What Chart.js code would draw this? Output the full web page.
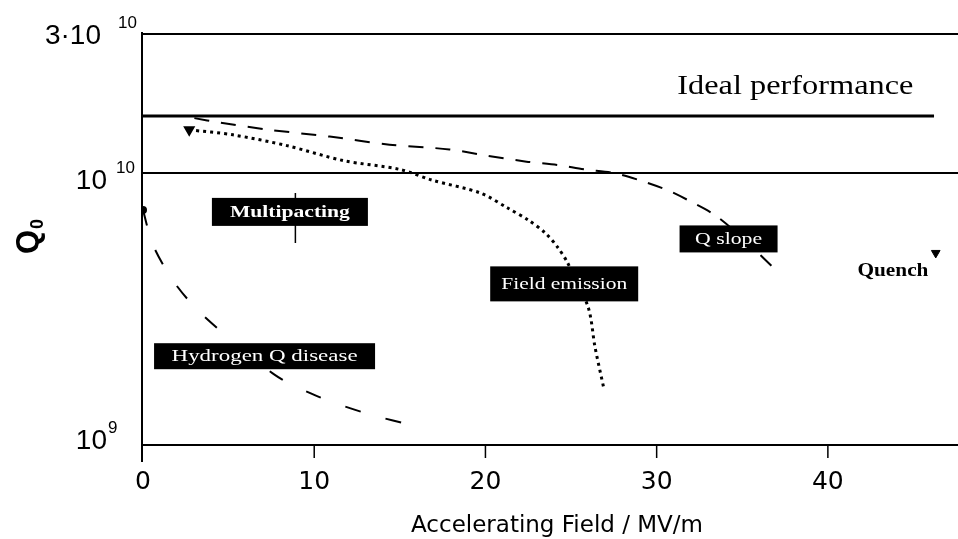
<!DOCTYPE html>
<html>
<head>
<meta charset="utf-8">
<script src="https://cdn.jsdelivr.net/npm/chart.js@4"></script>
<style>
  body { margin: 0; background: #fff; }
  canvas { display: block; }
</style>
</head>
<body>
<canvas id="grafik" width="958" height="539"></canvas>
<script>
// data (medan dalam MV/m, Q0)
const tickX = [0, 10, 20, 30, 40];
const tickY = [1e9, 1e10, 3e10];
const labelTickY = [["10", "9"], ["10", "10"], ["3·10", "10"]];

const medanIdeal = [0, 46.2];
const nilaiIdeal = [1.62e10, 1.62e10];

const medanRef = [0, 47.6];
const nilaiRef = [1e10, 1e10];

const medanQSlope = [3.0, 4.5, 7.4, 10.9, 14.4, 17.9, 20.0, 22.4, 24.2, 25.8, 27.5, 29.0, 30.6, 31.8, 33.4, 35.1, 36.8, 37.2];
const nilaiQSlope = [1.59e10, 1.53e10, 1.44e10, 1.36e10, 1.27e10, 1.22e10, 1.16e10, 1.10e10, 1.07e10, 1.03e10, 1.0e10, 9.4e9, 8.66e9, 7.96e9, 7.0e9, 5.7e9, 4.5e9, 4.29e9];

const medanEmisi = [2.7, 5.25, 8.4, 11.7, 15.0, 16.9, 19.7, 21.3, 22.5, 23.5, 24.2, 24.8, 26.0, 26.4, 26.9];
const nilaiEmisi = [1.44e10, 1.38e10, 1.26e10, 1.11e10, 1.03e10, 9.4e9, 8.44e9, 7.43e9, 6.71e9, 6.01e9, 5.35e9, 4.67e9, 3.21e9, 2.29e9, 1.63e9];

const medanHidrogen = [0, 0.6, 1.9, 3.6, 7.7, 10.2, 13.0, 16.2];
const nilaiHidrogen = [7.3e9, 5.4e9, 3.9e9, 2.96e9, 1.81e9, 1.51e9, 1.31e9, 1.16e9];

const medanMulti = [8.9, 8.9];
const nilaiMulti = [8.44e9, 5.53e9];

const medanQuench = [46.3];
const nilaiQuench = [5.08e9];

// label kotak hitam: teks, posisi (medan, Q0)
const labelKotak = [
    { teks: "Multipacting", x: 8.58, y: 7.19e9, tebal: true },
    { teks: "Q slope", x: 34.2, y: 5.72e9, tebal: false },
    { teks: "Field emission", x: 24.6, y: 3.91e9, tebal: false },
    { teks: "Hydrogen Q disease", x: 7.1, y: 2.12e9, tebal: false }
];
const labelBebas = [
    { teks: "Ideal performance", x: 38.1, y: 2.07e10 },
    { teks: "Quench", x: 43.8, y: 4.33e9 }
];

function gabung(xs, ys) {
    return xs.map((x, i) => ({ x: x, y: ys[i] }));
}

// ukuran kotak dan lebar teks (gaya, bukan data)
const gayaKotak = {
    "Multipacting": { w: 156, h: 28, tw: 120, fs: 17 },
    "Q slope": { w: 98, h: 27, tw: 67, fs: 16 },
    "Field emission": { w: 148, h: 35, tw: 126, fs: 16 },
    "Hydrogen Q disease": { w: 221, h: 26, tw: 186, fs: 16 }
};

function teksLebar(ctx, teks, cx, cy, font, lebar) {
    ctx.save();
    ctx.font = font;
    let w = ctx.measureText(teks).width;
    let s = lebar / w;
    ctx.translate(cx, cy);
    ctx.scale(s, 1);
    ctx.textAlign = "center";
    ctx.textBaseline = "middle";
    ctx.fillText(teks, 0, 0);
    ctx.restore();
}

const pluginRangka = {
    id: "rangka",
    afterDatasetsDraw(chart) {
        let ctx = chart.ctx;
        let xs = chart.scales.x;
        let ys = chart.scales.y;
        let a = chart.chartArea;

        ctx.save();
        ctx.strokeStyle = "#000";
        ctx.fillStyle = "#000";
        ctx.lineWidth = 2;

        // bingkai
        ctx.beginPath();
        ctx.moveTo(a.left - 1, a.top);
        ctx.lineTo(a.right, a.top);
        ctx.moveTo(a.left - 1, a.top - 2);
        ctx.lineTo(a.left - 1, a.bottom + 17);
        ctx.moveTo(a.left - 1, a.bottom);
        ctx.lineTo(a.right, a.bottom);
        ctx.stroke();

        // tick sumbu x
        ctx.lineWidth = 1.5;
        ctx.beginPath();
        tickX.forEach(v => {
            if (v === 0) return;
            let px = xs.getPixelForValue(v);
            ctx.moveTo(px, a.bottom);
            ctx.lineTo(px, a.bottom + 13);
        });
        ctx.stroke();

        // label tick x
        ctx.font = "25px 'DejaVu Sans'";
        ctx.textAlign = "center";
        ctx.textBaseline = "middle";
        tickX.forEach(v => {
            ctx.fillText(String(v), xs.getPixelForValue(v), 482);
        });

        // judul sumbu x
        ctx.font = "23px 'DejaVu Sans'";
        ctx.fillText("Accelerating Field / MV/m", 557, 526);

        // label tick y dengan pangkat
        let geserY = [-4, 8, -7];
        let kananY = [107, 107, 101];
        let jarakSup = [1, 9, 17];
        tickY.forEach((v, i) => {
            let py = ys.getPixelForValue(v) + geserY[i];
            ctx.font = "28px 'Liberation Sans'";
            ctx.textAlign = "right";
            ctx.textBaseline = "middle";
            ctx.fillText(labelTickY[i][0], kananY[i], py);
            ctx.font = "17px 'Liberation Sans'";
            ctx.textAlign = "left";
            ctx.fillText(labelTickY[i][1], kananY[i] + jarakSup[i], py - 13);
        });

        // judul sumbu y: Q0 diputar
        ctx.save();
        ctx.translate(38, 254);
        ctx.rotate(-Math.PI / 2);
        ctx.font = "bold 31px 'Liberation Sans'";
        ctx.textAlign = "left";
        ctx.textBaseline = "alphabetic";
        ctx.fillText("Q", 0, 0);
        let wq = ctx.measureText("Q").width;
        ctx.font = "bold 18px 'Liberation Sans'";
        ctx.fillText("0", wq + 1, 5);
        ctx.restore();

        // kotak hitam berlabel
        labelKotak.forEach(l => {
            let g = gayaKotak[l.teks];
            let cx = xs.getPixelForValue(l.x);
            let cy = ys.getPixelForValue(l.y);
            ctx.fillStyle = "#000";
            ctx.fillRect(cx - g.w / 2, cy - g.h / 2, g.w, g.h);
            ctx.fillStyle = "#fff";
            let font = (l.tebal ? "bold " : "") + g.fs + "px 'Liberation Serif'";
            teksLebar(ctx, l.teks, cx, cy + 1, font, g.tw);
        });

        // teks bebas
        ctx.fillStyle = "#000";
        let ideal = labelBebas[0];
        teksLebar(ctx, ideal.teks, xs.getPixelForValue(ideal.x), ys.getPixelForValue(ideal.y), "28px 'Liberation Serif'", 236);
        let quench = labelBebas[1];
        teksLebar(ctx, quench.teks, xs.getPixelForValue(quench.x), ys.getPixelForValue(quench.y), "bold 18px 'Liberation Serif'", 71);

        ctx.restore();
    }
};

function buatGrafik() {
    let ctx = document.getElementById("grafik").getContext("2d");

    new Chart(ctx, {
        type: "scatter",
        data: {
            datasets: [
                {
                    label: "Ideal performance",
                    data: gabung(medanIdeal, nilaiIdeal),
                    showLine: true,
                    borderColor: "#000",
                    borderWidth: 3,
                    pointRadius: 0
                },
                {
                    label: "1e10",
                    data: gabung(medanRef, nilaiRef),
                    showLine: true,
                    borderColor: "#000",
                    borderWidth: 2,
                    pointRadius: 0
                },
                {
                    label: "Q slope",
                    data: gabung(medanQSlope, nilaiQSlope),
                    showLine: true,
                    borderColor: "#000",
                    borderWidth: 2,
                    borderDash: [15, 12],
                    tension: 0.3,
                    pointRadius: 0
                },
                {
                    label: "Field emission",
                    data: gabung(medanEmisi, nilaiEmisi),
                    showLine: true,
                    borderColor: "#000",
                    borderWidth: 3,
                    borderDash: [3, 4],
                    tension: 0.3,
                    pointStyle: "triangle",
                    rotation: 180,
                    backgroundColor: "#000",
                    pointRadius: medanEmisi.map((v, i) => i === 0 ? 4 : 0)
                },
                {
                    label: "Hydrogen Q disease",
                    data: gabung(medanHidrogen, nilaiHidrogen),
                    showLine: true,
                    borderColor: "#000",
                    borderWidth: 2,
                    borderDash: [16, 26],
                    tension: 0.3,
                    backgroundColor: "#000",
                    pointRadius: medanHidrogen.map((v, i) => i === 0 ? 3 : 0)
                },
                {
                    label: "Multipacting",
                    data: gabung(medanMulti, nilaiMulti),
                    showLine: true,
                    borderColor: "#000",
                    borderWidth: 1.5,
                    pointRadius: 0
                },
                {
                    label: "Quench",
                    data: gabung(medanQuench, nilaiQuench),
                    pointStyle: "triangle",
                    rotation: 180,
                    pointRadius: 5,
                    backgroundColor: "#000",
                    borderColor: "#000"
                }
            ]
        },
        options: {
            responsive: false,
            animation: false,
            layout: {
                autoPadding: false,
                padding: { top: 34, right: 0, bottom: 0, left: 0 }
            },
            plugins: {
                legend: { display: false },
                tooltip: { enabled: false }
            },
            scales: {
                x: {
                    type: "linear",
                    min: 0,
                    max: 47.6,
                    grid: { display: false },
                    border: { display: false },
                    ticks: { display: false },
                    afterFit: s => { s.height = 94; }
                },
                y: {
                    type: "logarithmic",
                    min: 1e9,
                    max: 3.24e10,
                    grid: { display: false },
                    border: { display: false },
                    ticks: { display: false },
                    afterFit: s => { s.width = 143; }
                }
            }
        },
        plugins: [pluginRangka]
    });
}

buatGrafik();
</script>
</body>
</html>
